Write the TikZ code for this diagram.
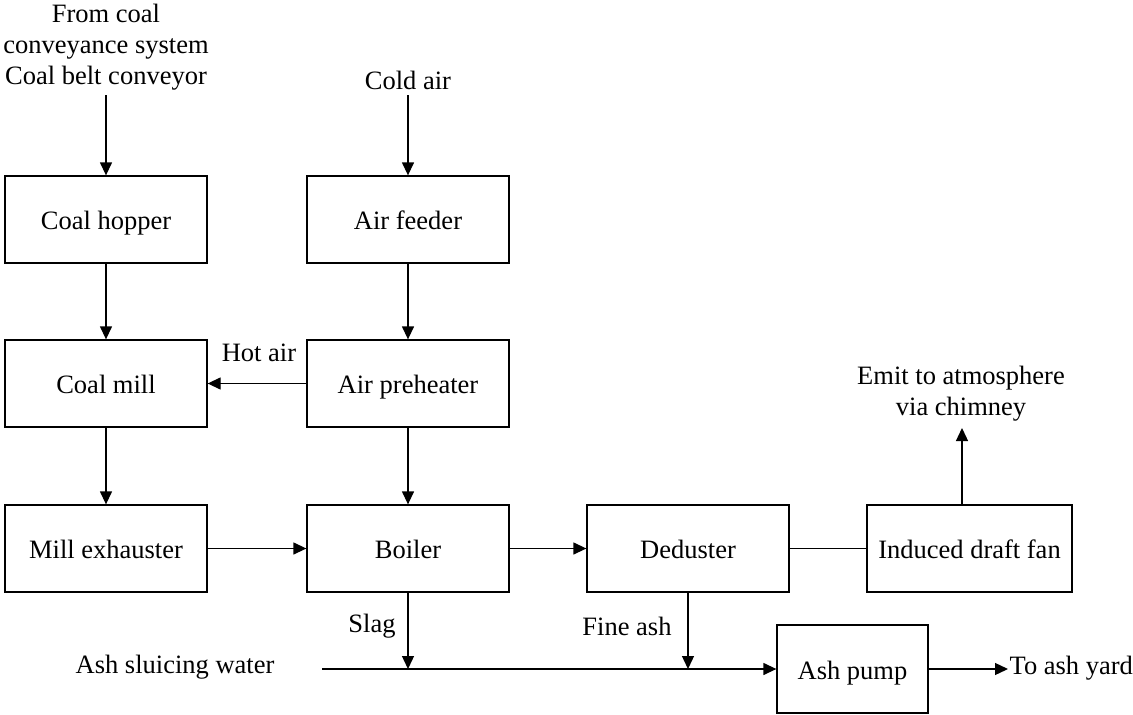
\documentclass[tikz,border=0pt]{standalone}
\usepackage{fontspec}
\setmainfont{Liberation Serif}
\usetikzlibrary{arrows.meta}
\begin{document}
\begin{tikzpicture}[x=1pt,y=-1pt,
  font=\fontsize{26.5}{31}\selectfont,
  every path/.style={line width=1.3pt},
  blk/.style={draw,line width=1.3pt,rectangle,minimum width=202pt,minimum height=87pt,inner sep=0pt,text height=21pt,text depth=1pt},
  lbl/.style={inner sep=0pt,align=center},
  arr/.style={-{Triangle[length=13pt,width=12pt]}}]
\useasboundingbox (0,0) rectangle (1133,715);
% boxes
\node[blk] (hopper) at (106,219.5) {Coal hopper};
\node[blk] (feeder) at (408,219.5) {Air feeder};
\node[blk] (mill) at (106,383.5) {Coal mill};
\node[blk] (preheat) at (408,383.5) {Air preheater};
\node[blk] (exh) at (106,548.5) {Mill exhauster};
\node[blk] (boiler) at (408,548.5) {Boiler};
\node[blk] (dedust) at (688,548.5) {Deduster};
\node[blk,minimum width=205pt] (idf) at (969.5,548.5) {Induced draft fan};
\node[blk,minimum width=151pt,minimum height=88pt] (pump) at (852.5,669) {Ash pump};
% labels
\node[lbl] (from) at (106,47) {From coal\\conveyance system\\Coal belt conveyor};
\node[lbl] (cold) at (408,80) {Cold air};
\node[lbl] (hot) at (259,353) {Hot air};
\node[lbl] (emit) at (961,394) {Emit to atmosphere\\via chimney};
\node[lbl] (slag) at (372,626) {Slag};
\node[lbl] (fine) at (627,626) {Fine ash};
\node[lbl] (sluice) at (175,667) {Ash sluicing water};
\node[lbl,anchor=west] (yard) at (1009,668) {To ash yard};
% coordinates
\coordinate (fromend) at (106,95);
\coordinate (coldend) at (408,95);
\coordinate (emitend) at (962,428);
\coordinate (idftop) at (962,505);
\coordinate (sluicestart) at (322,669);
\coordinate (yardend) at (1008,669);
% connectors
\draw[arr] (fromend) -- (hopper.north);
\draw[arr] (coldend) -- (feeder.north);
\draw[arr] (hopper.south) -- (mill.north);
\draw[arr] (feeder.south) -- (preheat.north);
\draw[arr] (preheat.west) -- (mill.east);
\draw[arr] (mill.south) -- (exh.north);
\draw[arr] (preheat.south) -- (boiler.north);
\draw[arr] (exh.east) -- (boiler.west);
\draw[arr] (boiler.east) -- (dedust.west);
\draw (dedust.east) -- (idf.west);
\draw[arr] (idftop) -- (emitend);
\draw[arr] (sluicestart) -- (pump.west);
\draw[arr] (boiler.south) -- (boiler.south |- sluicestart);
\draw[arr] (dedust.south) -- (dedust.south |- sluicestart);
\draw[arr] (pump.east) -- (yardend);
\end{tikzpicture}
\end{document}
